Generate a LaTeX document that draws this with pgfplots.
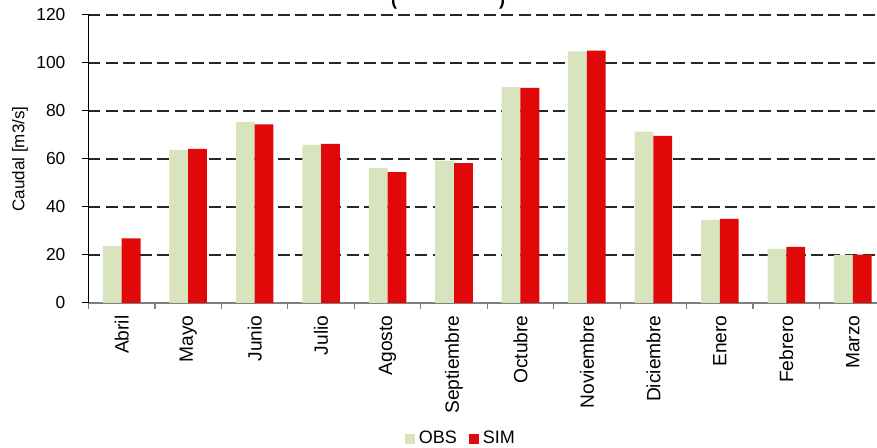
\documentclass[border=0pt]{standalone}
\usepackage{fontspec}
\setmainfont{Liberation Sans}
\usepackage{pgfplots}
\pgfplotsset{compat=1.18}
\definecolor{obs}{RGB}{215,228,189}
\definecolor{sim}{RGB}{224,8,8}
\begin{document}
\fontsize{8.3}{10}\selectfont
\begin{tikzpicture}
\begin{axis}[
  scale only axis, width=398.75pt, height=144pt,
  ybar=0pt, bar width=9.4pt,
  xmin=-0.5, xmax=11.5, ymin=0, ymax=120,
  xtick={0,...,11},
  xticklabels={Abril,Mayo,Junio,Julio,Agosto,Septiembre,Octubre,Noviembre,Diciembre,Enero,Febrero,Marzo},
  x tick label style={rotate=90, anchor=east, font=\fontsize{9.6}{11}\selectfont},
  xticklabel shift=0.3pt,
  major x tick style={draw=none},
  minor xtick={-0.5,0.5,...,11.5},
  minor x tick style={draw=gray, line width=0.6pt},
  ytick={0,20,...,120},
  yticklabel shift=5.6pt,
  y tick label style={font=\fontsize{8.7}{10}\selectfont},
  major y tick style={draw=black, line width=0.5pt},
  tick align=outside, major tick length=3pt, minor tick length=2.85pt,
  axis x line*=bottom, axis y line*=left,
  x axis line style={draw=gray, line width=0.8pt},
  y axis line style={draw=black, line width=0.5pt},
  ymajorgrids,
  grid style={draw=black!85, line width=0.7pt, dash pattern=on 6pt off 2.6pt},
  /pgf/number format/assume math mode=true,
  ylabel={Caudal [m3/s]},
  every axis y label/.style={at={(axis description cs:-0.0859,0.5)}, rotate=90, anchor=center, font=\fontsize{8.5}{10}\selectfont},
  legend columns=2,
  legend style={at={(axis description cs:0.4683,-0.4705)}, anchor=center, draw=none, fill=none,
    font=\fontsize{9}{10}\selectfont, /tikz/every even column/.append style={column sep=4pt}},
]
\coordinate (o) at (rel axis cs:0,0);
\addplot[fill=obs, draw=none, legend image code/.code={\fill[obs] (0pt,-2.5pt) rectangle (5pt,2.5pt);}]
  coordinates {(0,23.7) (1,63.8) (2,75.5) (3,65.9) (4,56.2) (5,59.3) (6,89.9) (7,104.8) (8,71.4) (9,34.6) (10,22.6) (11,20.1)};
\addlegendentry{OBS}
\addplot[fill=sim, draw=none, legend image code/.code={\fill[sim] (0pt,-2.5pt) rectangle (5pt,2.5pt);}]
  coordinates {(0,26.9) (1,64.2) (2,74.4) (3,66.3) (4,54.5) (5,58.3) (6,89.6) (7,105.2) (8,69.6) (9,35.0) (10,23.4) (11,20.2)};
\addlegendentry{SIM}
\end{axis}
\node[anchor=base, font=\bfseries\fontsize{9}{11}\selectfont] at ([shift={(179.75pt,148.5pt)}]o) {(\hspace{51pt})};
\pgfresetboundingbox
\path[use as bounding box] ([shift={(-44.25pt,-72.5pt)}]o) rectangle ([shift={(394.25pt,151.5pt)}]o);
\end{tikzpicture}
\end{document}
